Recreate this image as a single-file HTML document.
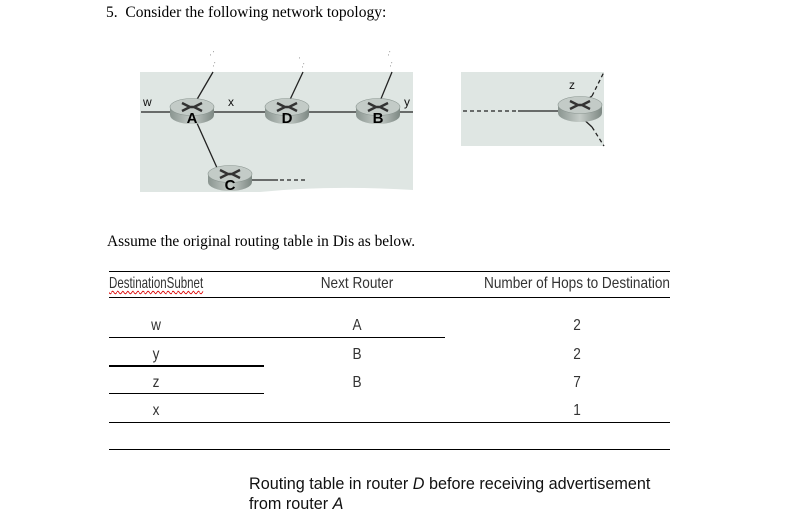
<!DOCTYPE html>
<html><head><meta charset="utf-8"><style>
body{margin:0;background:#fff;width:797px;height:525px;overflow:hidden;position:relative}
.t{position:absolute;white-space:nowrap}
.serif{font-family:"Liberation Serif",serif;font-size:15.4px;color:#000}
.n{font-family:"Liberation Sans",sans-serif;font-size:16px;color:#333;transform:scaleX(0.85);transform-origin:center;}
.cap{font-family:"Liberation Sans",sans-serif;font-size:16.2px;color:#111}
.ln{position:absolute;background:#000;height:1px}
</style></head><body>
<div class="t serif" style="left:106px;top:4px;font-size:15.5px">5.&nbsp; Consider the following network topology:</div>
<svg width="797" height="230" style="position:absolute;left:0;top:0" xmlns="http://www.w3.org/2000/svg">
<defs><linearGradient id="g" x1="0" y1="0" x2="1" y2="0"><stop offset="0" stop-color="#8a9590"/><stop offset="0.5" stop-color="#c5ccc8"/><stop offset="1" stop-color="#7d8883"/></linearGradient></defs>
<path d="M140 72 H413 V190 Q330 185 260 192 L140 192 Z" fill="#dfe6e3"/>
<rect x="461" y="72" width="143" height="74" fill="#dfe6e3"/>
<g stroke="#222" stroke-width="1.3" fill="none">
<line x1="141" y1="112" x2="413" y2="112"/>
<line x1="192" y1="108" x2="213" y2="72"/>
<line x1="287" y1="106" x2="303" y2="72"/>
<line x1="378" y1="106" x2="392" y2="72"/>
<line x1="192" y1="112" x2="218" y2="170"/>
<line x1="231" y1="180" x2="278" y2="180"/>
<line x1="280" y1="180" x2="307" y2="180" stroke-dasharray="4,3"/>
<line x1="463" y1="111" x2="518" y2="111" stroke-dasharray="4,3"/>
<line x1="518" y1="111" x2="570" y2="111"/>
<line x1="580" y1="104" x2="592" y2="96"/>
<line x1="592" y1="96" x2="604" y2="72" stroke-dasharray="4,3"/>
<line x1="580" y1="116" x2="592" y2="127"/>
<line x1="592" y1="127" x2="604" y2="146" stroke-dasharray="4,3"/>
</g>
<g font-family="Liberation Sans,sans-serif" font-size="5" fill="#333"><text x="210" y="55">, '</text><text x="213" y="66">,'</text><text x="299" y="58">,</text><text x="302" y="67">,'</text><text x="388" y="55">,'</text><text x="390" y="66">,'</text></g>
<g font-family="Liberation Sans,sans-serif" font-size="12" fill="#111"><text x="143" y="106">w</text><text x="228" y="106">x</text><text x="404" y="106">y</text><text x="569" y="89">z</text></g>
<g transform="translate(192,107)"><path d="M-22 0 V8 A22 9 0 0 0 22 8 V0 Z" fill="url(#g)"/><ellipse rx="22" ry="8.5" fill="#c3cbc7" stroke="#8a9590" stroke-width="0.6"/><path d="M-10 -4 L-2 0 L-10 4 M10 -4 L2 0 L10 4 M-3 0 H3" stroke="#333" stroke-width="2.4" fill="none"/><text y="16" text-anchor="middle" font-family="Liberation Sans,sans-serif" font-weight="bold" font-size="15">A</text></g>
<g transform="translate(287,107)"><path d="M-22 0 V8 A22 9 0 0 0 22 8 V0 Z" fill="url(#g)"/><ellipse rx="22" ry="8.5" fill="#c3cbc7" stroke="#8a9590" stroke-width="0.6"/><path d="M-10 -4 L-2 0 L-10 4 M10 -4 L2 0 L10 4 M-3 0 H3" stroke="#333" stroke-width="2.4" fill="none"/><text y="16" text-anchor="middle" font-family="Liberation Sans,sans-serif" font-weight="bold" font-size="15">D</text></g>
<g transform="translate(378,107)"><path d="M-22 0 V8 A22 9 0 0 0 22 8 V0 Z" fill="url(#g)"/><ellipse rx="22" ry="8.5" fill="#c3cbc7" stroke="#8a9590" stroke-width="0.6"/><path d="M-10 -4 L-2 0 L-10 4 M10 -4 L2 0 L10 4 M-3 0 H3" stroke="#333" stroke-width="2.4" fill="none"/><text y="16" text-anchor="middle" font-family="Liberation Sans,sans-serif" font-weight="bold" font-size="15">B</text></g>
<g transform="translate(230,174)"><path d="M-22 0 V8 A22 9 0 0 0 22 8 V0 Z" fill="url(#g)"/><ellipse rx="22" ry="8.5" fill="#c3cbc7" stroke="#8a9590" stroke-width="0.6"/><path d="M-10 -4 L-2 0 L-10 4 M10 -4 L2 0 L10 4 M-3 0 H3" stroke="#333" stroke-width="2.4" fill="none"/><text y="16" text-anchor="middle" font-family="Liberation Sans,sans-serif" font-weight="bold" font-size="15">C</text></g>
<g transform="translate(580,105)"><path d="M-22 0 V8 A22 9 0 0 0 22 8 V0 Z" fill="url(#g)"/><ellipse rx="22" ry="8.5" fill="#c3cbc7" stroke="#8a9590" stroke-width="0.6"/><path d="M-10 -4 L-2 0 L-10 4 M10 -4 L2 0 L10 4 M-3 0 H3" stroke="#333" stroke-width="2.4" fill="none"/></g>
</svg>
<div class="t serif" style="left:107px;top:233px">Assume the original routing table in Dis as below.</div>
<div class="ln" style="left:109px;top:271px;width:561px"></div>
<div class="t n" style="left:109px;top:275px;transform:scaleX(0.72);transform-origin:left;text-decoration:underline wavy #d00;text-underline-offset:2px;text-decoration-thickness:1px">DestinationSubnet</div>
<div class="t n" style="left:297px;top:275px;width:120px;text-align:center">Next Router</div>
<div class="t n" style="left:467px;top:275px;width:220px;text-align:center">Number of Hops to Destination</div>
<div class="ln" style="left:109px;top:297px;width:561px"></div>
<div class="t n" style="left:136px;top:317px;width:40px;text-align:center">w</div>
<div class="t n" style="left:337px;top:317px;width:40px;text-align:center">A</div>
<div class="t n" style="left:557px;top:317px;width:40px;text-align:center">2</div>
<div class="ln" style="left:109px;top:337px;width:336px"></div>
<div class="t n" style="left:136px;top:346px;width:40px;text-align:center">y</div>
<div class="t n" style="left:337px;top:346px;width:40px;text-align:center">B</div>
<div class="t n" style="left:557px;top:346px;width:40px;text-align:center">2</div>
<div class="ln" style="left:109px;top:365px;width:155px;height:2px"></div>
<div class="t n" style="left:136px;top:374px;width:40px;text-align:center">z</div>
<div class="t n" style="left:337px;top:374px;width:40px;text-align:center">B</div>
<div class="t n" style="left:557px;top:374px;width:40px;text-align:center">7</div>
<div class="ln" style="left:109px;top:393px;width:155px"></div>
<div class="t n" style="left:136px;top:402px;width:40px;text-align:center">x</div>
<div class="t n" style="left:557px;top:402px;width:40px;text-align:center">1</div>
<div class="ln" style="left:109px;top:422px;width:561px"></div>
<div class="ln" style="left:109px;top:449px;width:561px"></div>
<div class="t cap" style="left:249px;top:475px">Routing table in router <i>D</i> before receiving advertisement</div>
<div class="t cap" style="left:249px;top:495px">from router <i>A</i></div>
</body></html>
